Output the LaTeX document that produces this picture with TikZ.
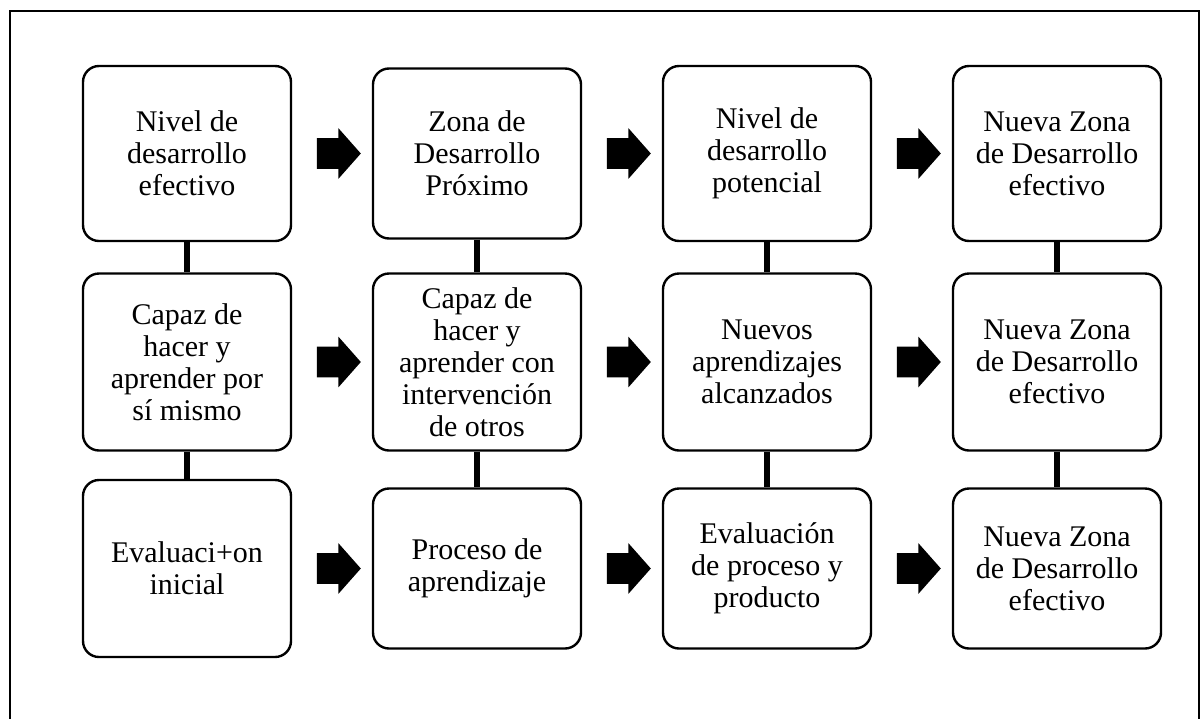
\documentclass[tikz,border=0pt]{standalone}
\usepackage{fontspec}
\setmainfont{Liberation Serif}
\usetikzlibrary{shapes.arrows}

\begin{document}
\begin{tikzpicture}[node distance={145pt}]
	\tikzstyle{box}=[draw, line width=1.2pt, rounded corners=8pt, minimum width=104pt, minimum height=87.5pt, align=center, inner sep=2pt, font=\fontsize{15}{16}\selectfont]
	\tikzstyle{midrow}=[minimum height=88.5pt]
	\tikzstyle{lowrow}=[minimum height=80pt]
	\tikzstyle{arr}=[single arrow, fill=black, inner xsep=0pt, inner ysep=7.5pt, minimum height=22pt, single arrow head extend=5pt, single arrow tip angle=97, node distance={72.5pt}]
	\tikzstyle{link}=[line width=2.8pt]

	\useasboundingbox (0,0) rectangle (601pt,-359pt);
	\draw[line width=1pt] (5pt,-362pt) -- (5pt,-5.5pt) -- (599.5pt,-5.5pt) -- (599.5pt,-362pt);

	\node[box] (b11) at (93.5pt,-76.75pt) {Nivel de\\desarrollo\\efectivo};
	\node[box, minimum height=85pt] (b12) [right of=b11] {Zona de\\Desarrollo\\Próximo};
	\node[box] (b13) [right of=b12] {Nivel de\\desarrollo\\potencial};
	\node[box] (b14) [right of=b13] {Nueva Zona\\de Desarrollo\\efectivo};

	\node[box, midrow] (b21) [below of=b11, node distance=104.25pt] {Capaz de\\hacer y\\aprender por\\sí mismo};
	\node[box, midrow] (b22) [right of=b21] {Capaz de\\hacer y\\aprender con\\intervención\\de otros};
	\node[box, midrow] (b23) [right of=b22] {Nuevos\\aprendizajes\\alcanzados};
	\node[box, midrow] (b24) [right of=b23] {Nueva Zona\\de Desarrollo\\efectivo};

	\node[box, midrow] (b31) [below of=b21, node distance=103.25pt] {Evaluaci+on\\inicial};
	\node[box, lowrow] (b32) [right of=b31] {Proceso de\\aprendizaje};
	\node[box, lowrow] (b33) [right of=b32] {Evaluación\\de proceso y\\producto};
	\node[box, lowrow] (b34) [right of=b33] {Nueva Zona\\de Desarrollo\\efectivo};

	\foreach \from/\name in {b11/a11,b12/a12,b13/a13,b21/a21,b22/a22,b23/a23,b31/a31,b32/a32,b33/a33}
	\node[arr] (\name) [right of=\from] {};

	\foreach \from/\to in {b11/b21,b21/b31,b12/b22,b22/b32,b13/b23,b23/b33,b14/b24,b24/b34}
	\draw [link] (\from) -- (\to);
\end{tikzpicture}
\end{document}
